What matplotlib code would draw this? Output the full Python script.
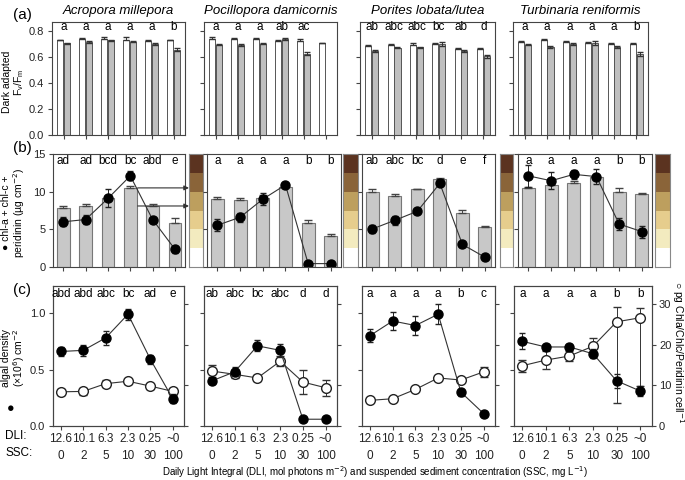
import numpy as np
import matplotlib
matplotlib.use('Agg')
import matplotlib.pyplot as plt

plt.rcParams['font.family'] = ['Liberation Sans', 'DejaVu Sans']
plt.rcParams['font.size'] = 8.5
plt.rcParams['axes.edgecolor'] = '#444444'
plt.rcParams['axes.linewidth'] = 0.8
plt.rcParams['xtick.color'] = '#444444'
plt.rcParams['ytick.color'] = '#444444'
plt.rcParams['xtick.labelcolor'] = '#222222'
plt.rcParams['ytick.labelcolor'] = '#222222'
plt.rcParams['xtick.labelsize'] = 8.5
plt.rcParams['ytick.labelsize'] = 8
plt.rcParams['xtick.major.size'] = 3
plt.rcParams['ytick.major.size'] = 3
plt.rcParams['ytick.major.pad'] = 2.5

species = ['Acropora millepora', 'Pocillopora damicornis', 'Porites lobata/lutea', 'Turbinaria reniformis']
dli = ['12.6', '10.1', '6.3', '2.3', '0.25', '~0']
ssc = ['0', '2', '5', '10', '30', '100']

# (a) dark adapted Fv/Fm, white = first measurement, grey = second
fv_white = [[0.729, 0.739, 0.737, 0.734, 0.724, 0.729],
            [0.739, 0.742, 0.737, 0.724, 0.724, 0.708],
            [0.685, 0.696, 0.696, 0.700, 0.662, 0.665],
            [0.716, 0.734, 0.716, 0.708, 0.703, 0.703]]
fv_white_err = [[0.005, 0.004, 0.015, 0.018, 0.005, 0.003],
                [0.012, 0.008, 0.008, 0.005, 0.012, 0.003],
                [0.010, 0.005, 0.010, 0.012, 0.005, 0.004],
                [0.008, 0.003, 0.010, 0.010, 0.003, 0.003]]
fv_grey = [[0.708, 0.716, 0.729, 0.719, 0.703, 0.657],
           [0.696, 0.693, 0.703, 0.739, 0.627, np.nan],
           [0.647, 0.670, 0.675, 0.700, 0.647, 0.606],
           [0.696, 0.678, 0.700, 0.708, 0.678, 0.627]]
fv_grey_err = [[0.004, 0.005, 0.006, 0.006, 0.008, 0.012],
               [0.005, 0.004, 0.005, 0.004, 0.010, 0.0],
               [0.010, 0.004, 0.004, 0.015, 0.006, 0.010],
               [0.006, 0.008, 0.008, 0.012, 0.008, 0.015]]
letters_a = [['a', 'a', 'a', 'a', 'a', 'b'],
             ['a', 'a', 'a', 'ab', 'ac', ''],
             ['ab', 'abc', 'abc', 'bc', 'ab', 'd'],
             ['a', 'a', 'a', 'a', 'a', 'b']]

# (b) pigments: bars (grey) and dots (chl-a + chl-c + peridinin)
pig_bar = [[7.8, 8.1, 9.2, 10.5, 8.1, 5.9],
           [9.0, 8.9, 9.2, 10.6, 5.8, 4.1],
           [9.9, 9.4, 10.3, 11.7, 7.2, 5.3],
           [10.5, 10.9, 11.2, 11.9, 9.9, 9.7]]
pig_bar_err = [[0.35, 0.3, 0.2, 0.25, 0.25, 0.6],
               [0.3, 0.25, 0.3, 0.2, 0.4, 0.3],
               [0.4, 0.25, 0.1, 0.15, 0.4, 0.1],
               [0.1, 0.2, 0.2, 0.1, 0.55, 0.1]]
pig_dot = [[6.0, 6.3, 9.1, 12.1, 6.3, 2.35],
           [5.55, 6.6, 9.0, 10.9, 0.45, 0.45],
           [5.05, 6.2, 7.4, 11.1, 3.0, 1.3],
           [12.1, 11.45, 12.3, 12.0, 5.7, 4.7]]
pig_dot_err = [[0.6, 0.6, 1.2, 0.6, 0.4, 0.5],
               [0.8, 0.6, 0.8, 0.2, 0.1, 0.1],
               [0.5, 0.6, 0.2, 0.3, 0.1, 0.1],
               [1.5, 1.1, 0.6, 1.0, 0.8, 0.8]]
letters_b = [['ad', 'ad', 'bcd', 'bc', 'abd', 'e'],
             ['a', 'a', 'a', 'a', 'b', 'b'],
             ['ab', 'abc', 'bc', 'd', 'e', 'f'],
             ['a', 'a', 'a', 'a', 'b', 'b']]
colour_card = ['#5b3320', '#8a6439', '#bd9f5e', '#e6cd8d', '#f3ebbf', '#ffffff']

# (c) algal density (filled, left axis) and pigment per cell (open, right axis)
dens = [[0.66, 0.67, 0.78, 0.99, 0.59, 0.24],
        [0.40, 0.48, 0.71, 0.67, 0.06, 0.06],
        [0.80, 0.93, 0.89, 0.99, 0.30, 0.11],
        [0.75, 0.70, 0.70, 0.64, 0.40, 0.31]]
dens_err = [[0.04, 0.05, 0.06, 0.05, 0.04, 0.04],
            [0.03, 0.04, 0.05, 0.06, 0.01, 0.01],
            [0.06, 0.08, 0.08, 0.09, 0.03, 0.01],
            [0.07, 0.03, 0.03, 0.04, 0.06, 0.04]]
pgcell = [[8.4, 8.5, 10.4, 11.0, 9.8, 8.5],
          [13.5, 12.7, 11.8, 15.9, 10.8, 9.4],
          [6.3, 6.7, 9.0, 11.8, 11.3, 13.3],
          [14.8, 16.2, 17.2, 19.6, 25.6, 26.6]]
pgcell_err_lo = [[0.8, 0.9, 0.9, 0.6, 0.6, 0.8],
                 [1.5, 1.0, 0.7, 1.2, 2.9, 2.0],
                 [0.3, 0.3, 0.4, 0.5, 0.5, 1.3],
                 [1.5, 2.2, 1.2, 2.0, 20.0, 16.8]]
pgcell_err_hi = [[0.8, 0.9, 0.9, 0.6, 0.6, 0.8],
                 [1.5, 1.0, 0.7, 1.2, 2.9, 2.0],
                 [0.3, 0.3, 0.4, 0.5, 0.5, 1.3],
                 [1.5, 2.2, 1.2, 2.0, 3.7, 2.3]]
letters_c = [['abd', 'abd', 'abc', 'bc', 'ad', 'e'],
             ['ab', 'abc', 'bc', 'abc', 'd', 'd'],
             ['a', 'a', 'a', 'a', 'b', 'c'],
             ['a', 'a', 'a', 'a', 'b', 'b']]

W, H = 685, 480
fig = plt.figure(figsize=(W / 100, H / 100), dpi=100)


def box(l, r, t, b):
    return [l / W, 1 - b / H, (r - l) / W, (b - t) / H]


a_x = [(52, 185), (204, 337), (360, 495), (513, 648)]
b_x = [(53, 185), (207, 341), (362, 495), (518, 652)]
cb_x = [(189, 203), (343, 358), (500, 513), (655, 670)]
c_x = [(53, 184), (204, 337), (362, 495), (514, 652)]

x = np.arange(6)

for i in range(4):
    # ---------- (a)
    ax = fig.add_axes(box(a_x[i][0], a_x[i][1], 22, 135))
    ax.bar(x - 0.15, fv_white[i], 0.27, color='white', edgecolor='#555555', linewidth=0.7)
    ax.errorbar(x - 0.15, fv_white[i], yerr=[np.zeros(6), fv_white_err[i]], fmt='none',
                ecolor='#333333', elinewidth=0.7, capsize=2)
    ax.bar(x + 0.15, fv_grey[i], 0.27, color='#bfbfbf', edgecolor='#555555', linewidth=0.7)
    ax.errorbar(x + 0.15, fv_grey[i], yerr=fv_grey_err[i], fmt='none',
                ecolor='#333333', elinewidth=0.7, capsize=2)
    ax.set_xlim(-0.53, 5.52)
    ax.set_ylim(0, 0.87)
    ax.set_xticks(x)
    ax.set_xticklabels([])
    ax.set_yticks([0, 0.2, 0.4, 0.6, 0.8])
    if i == 0:
        ax.set_yticklabels(['0.0', '0.2', '0.4', '0.6', '0.8'])
    else:
        ax.set_yticklabels([])
    for j in range(6):
        ax.text(j, 0.955, letters_a[i][j], transform=ax.get_xaxis_transform(),
                ha='center', va='center')
    ax.set_title(species[i], fontsize=9.5, style='italic', pad=6)

    # ---------- (b)
    ax = fig.add_axes(box(b_x[i][0], b_x[i][1], 154, 267))
    ax.bar(x, pig_bar[i], 0.57, color='#c8c8c8', edgecolor='#777777', linewidth=0.8)
    ax.errorbar(x, pig_bar[i], yerr=[np.zeros(6), pig_bar_err[i]], fmt='none',
                ecolor='#444444', elinewidth=0.7, capsize=3)
    ax.errorbar(x, pig_dot[i], yerr=pig_dot_err[i], fmt='o-', color='#333333',
                mfc='black', mec='black', ms=6.5, lw=0.8, ecolor='#222222',
                elinewidth=0.7, capsize=2)
    ax.set_xlim(-0.46, 5.45)
    ax.set_ylim(0, 15)
    ax.set_xticks(x)
    ax.set_xticklabels([])
    ax.set_yticks([0, 5, 10, 15])
    if i == 0:
        ax.set_yticklabels(['0', '5', '10', '15'])
        for yv in [10.5, 8.1]:
            ax.annotate('', xy=(1.03, yv), xycoords=('axes fraction', 'data'),
                        xytext=(3.33, yv), textcoords='data',
                        arrowprops=dict(arrowstyle='-|>', color='#333333', lw=0.8,
                                        mutation_scale=7, shrinkA=0, shrinkB=0))
    else:
        ax.set_yticklabels([])
    for j in range(6):
        ax.text(j, 0.94, letters_b[i][j], transform=ax.get_xaxis_transform(),
                ha='center', va='center')

    cb = fig.add_axes(box(cb_x[i][0], cb_x[i][1], 154, 267))
    for k, col in enumerate(colour_card):
        cb.axhspan(5 - k, 6 - k, color=col, lw=0)
    cb.set_ylim(0, 6)
    cb.set_xlim(0, 1)
    cb.set_xticks([])
    cb.set_yticks([])
    for s in cb.spines.values():
        s.set_color('#888888')

    # ---------- (c)
    ax = fig.add_axes(box(c_x[i][0], c_x[i][1], 286, 426))
    ax2 = ax.twinx()
    ax2.errorbar(x, pgcell[i], yerr=[pgcell_err_lo[i], pgcell_err_hi[i]], fmt='o-',
                 color='#333333', mfc='white', mec='#222222', ms=7, lw=0.8,
                 ecolor='#333333', elinewidth=0.7, capsize=3, zorder=2)
    ax.errorbar(x, dens[i], yerr=dens_err[i], fmt='o-', color='#333333',
                mfc='black', mec='black', ms=6.5, lw=0.8, ecolor='#222222',
                elinewidth=0.7, capsize=2.5, zorder=3)
    ax.set_zorder(ax2.get_zorder() + 1)
    ax.patch.set_visible(False)
    ax.set_xlim(-0.35, 5.5)
    ax.set_ylim(0, 1.24)
    ax2.set_ylim(0, 34.4)
    ax.set_xticks(x)
    ax.set_xticklabels([d + '\n' + s for d, s in zip(dli, ssc)], linespacing=1.55)
    ax.tick_params(axis='x', pad=2)
    ax2.tick_params(axis='y', pad=2)
    ax.set_yticks([0, 0.5, 1.0])
    ax2.set_yticks([0, 10, 20, 30])
    if i == 0:
        ax.set_yticklabels(['0.0', '0.5', '1.0'])
    else:
        ax.set_yticklabels([])
    if i == 3:
        ax2.set_yticklabels(['0', '10', '20', '30'])
    else:
        ax2.set_yticklabels([])
    for j in range(6):
        ax.text(j, 0.943, letters_c[i][j], transform=ax.get_xaxis_transform(),
                ha='center', va='center')

# panel labels and axis labels
fig.text(22 / W, 1 - 15 / H, '(a)', fontsize=11, ha='center', va='center')
fig.text(22 / W, 1 - 148 / H, '(b)', fontsize=11, ha='center', va='center')
fig.text(22 / W, 1 - 290 / H, '(c)', fontsize=11, ha='center', va='center')

fig.text(14 / W, 1 - 82 / H, 'Dark adapted\nF$_\\mathregular{v}$/F$_\\mathregular{m}$',
         rotation=90, ha='center', va='center', ma='center', fontsize=7.5,
         linespacing=1.05)
fig.text(14 / W, 1 - 213 / H, '\u25cf chl-a + chl-c +\nperidinin (\u00b5g cm$^{-2}$)',
         rotation=90, ha='center', va='center', ma='center', fontsize=7.5,
         linespacing=1.1)
fig.text(14 / W, 1 - 358 / H, 'algal density\n(\u00d710$^6$) cm$^{-2}$',
         rotation=90, ha='center', va='center', ma='center', fontsize=7.5,
         linespacing=1.1)
fig.text(11 / W, 1 - 409 / H, '\u25cf', ha='center', va='center', fontsize=9)
fig.text(678 / W, 1 - 352 / H, '\u25cb pg Chla/Chlc/Peridinin cell$^{-1}$',
         rotation=-90, ha='center', va='center', fontsize=7.5)

fig.text(5 / W, 1 - 436 / H, 'DLI:', ha='left', va='center', fontsize=8.5)
fig.text(5 / W, 1 - 453 / H, 'SSC:', ha='left', va='center', fontsize=8.5)
fig.text(375 / W, 1 - 472 / H,
         'Daily Light Integral (DLI, mol photons m$^{-2}$) and suspended sediment concentration (SSC, mg L$^{-1}$)',
         ha='center', va='center', fontsize=7)

fig.savefig('out.png', dpi=100)
